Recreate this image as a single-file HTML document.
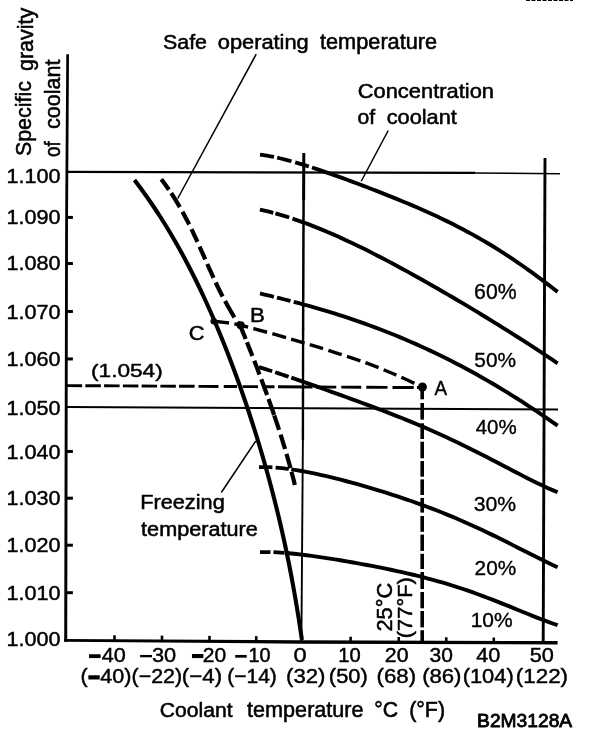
<!DOCTYPE html>
<html><head><meta charset="utf-8"><title>Coolant specific gravity chart</title>
<style>
html,body{margin:0;padding:0;background:#fff}
svg{display:block}
text{font-family:"Liberation Sans",sans-serif;font-size:20px;fill:#000;stroke:#000;stroke-linejoin:round}
.g path{stroke:#000;fill:none;stroke-linecap:butt;stroke-linejoin:round}
</style></head><body>
<svg width="608" height="732" viewBox="0 0 608 732">
<rect width="608" height="732" fill="#fff"/>
<g class="g">
<path d="M66.3 54.2 L69 54.2 L68 215 L67.2 641.7 L64.2 641.7 L65.2 215 Z" style="fill:#000;stroke:none"/>
<path d="M64.2 639.1 L300 640.2 L557.6 641.1 L557.6 644.4 L300 643.7 L64.2 641.7 Z" style="fill:#000;stroke:none"/>
<path d="M66.50 217.40 L72.90 217.40" stroke-width="3.0"/>
<path d="M66.50 263.50 L72.90 263.50" stroke-width="3.0"/>
<path d="M66.50 311.45 L72.90 311.45" stroke-width="3.0"/>
<path d="M66.50 358.95 L72.90 358.95" stroke-width="3.0"/>
<path d="M66.50 451.45 L72.90 451.45" stroke-width="3.0"/>
<path d="M66.50 498.20 L72.90 498.20" stroke-width="3.0"/>
<path d="M66.50 545.20 L72.90 545.20" stroke-width="3.0"/>
<path d="M66.50 592.70 L72.90 592.70" stroke-width="3.0"/>
<path d="M114.50 635.30 L114.50 640.70" stroke-width="2.6"/>
<path d="M162.00 635.58 L162.00 640.98" stroke-width="2.6"/>
<path d="M209.50 635.87 L209.50 641.27" stroke-width="2.6"/>
<path d="M256.25 636.15 L256.25 641.55" stroke-width="2.6"/>
<path d="M350.60 636.71 L350.60 642.11" stroke-width="2.6"/>
<path d="M398.75 637.00 L398.75 642.40" stroke-width="2.6"/>
<path d="M446.25 637.29 L446.25 642.69" stroke-width="2.6"/>
<path d="M493.75 637.57 L493.75 642.97" stroke-width="2.6"/>
<path d="M67.00 171.80 L475.00 172.90" stroke-width="2.3"/>
<path d="M474.00 172.90 L560.00 173.80" stroke-width="1.5"/>
<path d="M67.00 407.00 L558.00 409.50" stroke-width="1.9"/>
<path d="M303.80 153.00 L303.60 200.00" stroke-width="3.0"/>
<path d="M303.60 199.00 L303.10 330.00" stroke-width="2.5"/>
<path d="M303.10 329.00 L302.90 440.00" stroke-width="2.4"/>
<path d="M302.90 439.00 L301.40 641.00" stroke-width="1.9"/>
<path d="M545.00 158.00 L543.20 643.00" stroke-width="2.9"/>
<path d="M66.60 385.60 L82.10 385.69" stroke-width="2.9"/>
<path d="M85.35 385.70 L100.85 385.79" stroke-width="2.9"/>
<path d="M104.10 385.81 L119.60 385.90" stroke-width="2.9"/>
<path d="M122.85 385.91 L138.35 386.00" stroke-width="2.9"/>
<path d="M141.60 386.02 L157.10 386.11" stroke-width="2.9"/>
<path d="M160.35 386.13 L175.85 386.21" stroke-width="2.9"/>
<path d="M179.10 386.23 L194.60 386.32" stroke-width="2.9"/>
<path d="M198.50 386.34 L218.50 386.45" stroke-width="2.9"/>
<path d="M223.75 386.48 L237.00 386.56" stroke-width="2.9"/>
<path d="M242.60 386.59 L258.00 386.68" stroke-width="2.9"/>
<path d="M262.00 386.70 L274.50 386.77" stroke-width="2.9"/>
<path d="M278.00 386.79 L312.50 386.98" stroke-width="2.9"/>
<path d="M316.25 387.00 L336.25 387.12" stroke-width="2.9"/>
<path d="M341.25 387.15 L361.25 387.26" stroke-width="2.9"/>
<path d="M366.25 387.29 L387.50 387.41" stroke-width="2.9"/>
<path d="M392.50 387.43 L413.75 387.55" stroke-width="2.9"/>
<path d="M417.00 387.57 L422.00 387.60" stroke-width="2.9"/>
<path d="M422.20 387.00 L422.20 399.30" stroke-width="3.6"/>
<path d="M422.20 403.00 L422.20 419.60" stroke-width="3.6"/>
<path d="M422.20 423.30 L422.20 439.00" stroke-width="3.6"/>
<path d="M422.20 441.70 L422.20 458.30" stroke-width="3.6"/>
<path d="M422.20 461.00 L422.20 476.70" stroke-width="3.6"/>
<path d="M422.20 479.40 L422.20 495.00" stroke-width="3.6"/>
<path d="M422.20 497.90 L422.20 512.60" stroke-width="3.6"/>
<path d="M422.20 516.00 L422.20 531.80" stroke-width="3.6"/>
<path d="M422.20 534.60 L422.20 550.90" stroke-width="3.6"/>
<path d="M422.20 553.80 L422.20 569.00" stroke-width="3.6"/>
<path d="M422.20 572.00 L422.20 589.00" stroke-width="3.6"/>
<path d="M422.20 592.00 L422.20 608.30" stroke-width="3.6"/>
<path d="M422.20 611.00 L422.20 627.40" stroke-width="3.6"/>
<path d="M422.20 630.20 L422.20 642.50" stroke-width="3.6"/>
<path d="M213.75 321.25 C218.04 321.88 226.79 322.08 239.50 325.00 C252.21 327.92 275.25 334.53 290.00 338.75 C304.75 342.97 315.50 346.34 328.00 350.30 C340.50 354.26 353.83 358.47 365.00 362.50 C376.17 366.53 385.50 370.42 395.00 374.50 C404.50 378.58 417.50 384.92 422.00 387.00" stroke-width="3.4" stroke-dasharray="14 5.5" stroke-dashoffset="-1.5"/>
<path d="M134.47 180.00 L137.51 184.00 L140.49 188.00 L143.40 192.00 L146.26 196.00 L149.06 200.00 L151.81 204.00 L154.51 208.00 L157.15 212.00 L159.75 216.00 L162.30 220.00 L164.80 224.00 L167.26 228.00 L169.67 232.00 L172.04 236.00 L174.37 240.00 L176.67 244.00 L178.92 248.00 L181.13 252.00 L183.31 256.00 L185.46 260.00 L187.57 264.00 L189.65 268.00 L191.70 272.00 L193.71 276.00 L195.70 280.00 L197.66 284.00 L199.59 288.00 L201.49 292.00 L203.36 296.00 L205.21 300.00 L207.04 304.00 L208.84 308.00 L210.62 312.00 L212.37 316.00 L214.10 320.00 L215.81 324.00 L217.50 328.00 L219.17 332.00 L220.82 336.00 L222.45 340.00 L224.06 344.00 L225.65 348.00 L227.22 352.00 L228.77 356.00 L230.31 360.00 L231.83 364.00 L233.33 368.00 L234.82 372.00 L236.29 376.00 L237.74 380.00 L239.18 384.00 L240.60 388.00 L242.00 392.00 L243.39 396.00 L244.77 400.00 L246.13 404.00 L247.47 408.00 L248.81 412.00 L250.12 416.00 L251.42 420.00 L252.71 424.00 L253.99 428.00 L255.25 432.00 L256.49 436.00 L257.72 440.00 L258.94 444.00 L260.14 448.00 L261.33 452.00 L262.51 456.00 L263.67 460.00 L264.81 464.00 L265.95 468.00 L267.07 472.00 L268.17 476.00 L269.27 480.00 L270.34 484.00 L271.41 488.00 L272.46 492.00 L273.49 496.00 L274.52 500.00 L275.52 504.00 L276.52 508.00 L277.50 512.00 L278.47 516.00 L279.42 520.00 L280.36 524.00 L281.28 528.00 L282.19 532.00 L283.09 536.00 L283.98 540.00 L284.85 544.00 L285.70 548.00 L286.54 552.00 L287.37 556.00 L288.19 560.00 L288.99 564.00 L289.78 568.00 L290.56 572.00 L291.32 576.00 L292.07 580.00 L292.81 584.00 L293.53 588.00 L294.25 592.00 L294.95 596.00 L295.64 600.00 L296.31 604.00 L296.98 608.00 L297.63 612.00 L298.28 616.00 L298.91 620.00 L299.53 624.00 L300.15 628.00 L300.75 632.00 L301.35 636.00 L301.93 640.00" stroke-width="4.1"/>
<path d="M161.31 179.30 L163.93 182.77 L166.44 186.23 L168.87 189.70" stroke-width="4.2"/>
<path d="M171.23 193.20 L173.49 196.67 L175.67 200.15 L177.78 203.62 L179.82 207.10" stroke-width="4.2"/>
<path d="M182.48 211.80 L184.22 214.98 L185.91 218.15 L187.56 221.32 L189.16 224.50" stroke-width="4.2"/>
<path d="M191.48 229.20 L193.01 232.38 L194.51 235.55 L195.98 238.72 L197.44 241.90" stroke-width="4.2"/>
<path d="M199.56 246.60 L200.98 249.78 L202.39 252.95 L203.80 256.12 L205.20 259.30" stroke-width="4.2"/>
<path d="M207.28 264.00 L208.82 267.48 L210.38 270.95 L211.96 274.42 L213.55 277.90" stroke-width="4.2"/>
<path d="M215.70 282.50 L217.37 286.00 L219.08 289.50 L220.83 293.00 L222.62 296.50" stroke-width="4.2"/>
<path d="M225.06 301.10 L226.83 304.34 L228.65 307.58 L230.52 310.82 L232.46 314.06 L234.45 317.30" stroke-width="4.2"/>
<path d="M237.46 322.00 L240.09 325.20" stroke-width="4.2"/>
<path d="M240.09 325.20 L241.49 328.65 L242.88 332.10 L244.27 335.55 L245.66 339.00" stroke-width="4.2"/>
<path d="M246.98 342.30 L248.34 345.73 L249.70 349.15 L251.05 352.57 L252.39 356.00" stroke-width="4.2"/>
<path d="M254.26 360.80 L255.58 364.20 L256.88 367.60 L258.18 371.00 L259.47 374.40" stroke-width="4.2"/>
<path d="M261.28 379.20 L262.46 382.36 L263.63 385.52 L264.79 388.68 L265.95 391.84 L267.09 395.00" stroke-width="4.2"/>
<path d="M268.53 399.00 L269.67 402.20 L270.79 405.40 L271.91 408.60 L273.02 411.80 L274.11 415.00" stroke-width="4.2"/>
<path d="M274.28 415.50 L275.49 419.07 L276.69 422.65 L277.87 426.23 L279.03 429.80" stroke-width="4.2"/>
<path d="M280.58 434.60 L281.71 438.20 L282.83 441.80 L283.94 445.40 L285.02 449.00" stroke-width="4.2"/>
<path d="M286.45 453.80 L287.48 457.38 L288.50 460.95 L289.51 464.53 L290.49 468.10" stroke-width="4.2"/>
<path d="M291.46 471.70 L292.33 475.00 L293.19 478.30 L294.03 481.60 L294.85 484.90" stroke-width="4.2"/>
<path d="M260.00 154.55 L263.50 155.05 L267.00 155.63 L270.50 156.27 L274.00 156.98" stroke-width="3.8"/>
<path d="M277.20 157.67 L280.77 158.50 L284.35 159.38 L287.93 160.30 L291.50 161.27" stroke-width="3.8"/>
<path d="M295.20 162.31 L298.60 163.31 L302.00 164.33 L305.40 165.38 L308.80 166.46" stroke-width="3.8"/>
<path d="M312.00 167.49 L317.01 169.15 L322.02 170.84 L327.04 172.57 L332.05 174.33 L337.06 176.12 L342.07 177.93 L347.09 179.77 L352.10 181.62 L357.11 183.49 L362.12 185.38 L367.13 187.29 L372.15 189.21 L377.16 191.16 L382.17 193.12 L387.18 195.10 L392.20 197.11 L397.21 199.14 L402.22 201.20 L407.23 203.29 L412.24 205.40 L417.26 207.56 L422.27 209.75 L427.28 211.98 L432.29 214.25 L437.31 216.58 L442.32 218.95 L447.33 221.37 L452.34 223.86 L457.36 226.40 L462.37 229.00 L467.38 231.66 L472.39 234.40 L477.40 237.20 L482.42 240.07 L487.43 243.02 L492.44 246.04 L497.45 249.14 L502.47 252.31 L507.48 255.56 L512.49 258.88 L517.50 262.28 L522.51 265.75 L527.53 269.29 L532.54 272.90 L537.55 276.58 L542.56 280.32 L547.58 284.12 L552.59 287.97 L557.60 291.87" stroke-width="3.9"/>
<path d="M259.90 209.57 L263.25 210.32 L266.60 211.11 L269.95 211.94 L273.30 212.81" stroke-width="3.8"/>
<path d="M275.40 213.38 L278.85 214.36 L282.30 215.37 L285.75 216.42 L289.20 217.51" stroke-width="3.8"/>
<path d="M292.50 218.59 L297.50 220.30 L302.50 222.07 L307.51 223.92 L312.51 225.84 L317.51 227.82 L322.51 229.86 L327.51 231.97 L332.52 234.12 L337.52 236.34 L342.52 238.60 L347.52 240.91 L352.52 243.27 L357.52 245.67 L362.53 248.12 L367.53 250.60 L372.53 253.12 L377.53 255.68 L382.53 258.26 L387.54 260.89 L392.54 263.54 L397.54 266.22 L402.54 268.93 L407.54 271.66 L412.55 274.42 L417.55 277.21 L422.55 280.01 L427.55 282.84 L432.55 285.69 L437.55 288.56 L442.56 291.45 L447.56 294.35 L452.56 297.28 L457.56 300.22 L462.56 303.19 L467.57 306.17 L472.57 309.17 L477.57 312.18 L482.57 315.22 L487.57 318.27 L492.58 321.34 L497.58 324.43 L502.58 327.54 L507.58 330.67 L512.58 333.82 L517.58 337.00 L522.59 340.19 L527.59 343.41 L532.59 346.66 L537.59 349.93 L542.59 353.23 L547.60 356.55 L552.60 359.91 L557.60 363.30" stroke-width="3.9"/>
<path d="M260.00 293.46 L263.48 294.28 L266.95 295.11 L270.42 295.94 L273.90 296.79" stroke-width="3.8"/>
<path d="M277.00 297.55 L280.38 298.39 L283.75 299.24 L287.12 300.10 L290.50 300.97" stroke-width="3.8"/>
<path d="M293.75 301.82 L298.82 303.17 L303.90 304.55 L308.97 305.95 L314.05 307.39 L319.12 308.86 L324.19 310.36 L329.27 311.89 L334.34 313.46 L339.42 315.06 L344.49 316.70 L349.56 318.37 L354.64 320.09 L359.71 321.84 L364.79 323.63 L369.86 325.47 L374.93 327.34 L380.01 329.26 L385.08 331.22 L390.16 333.22 L395.23 335.27 L400.30 337.36 L405.38 339.49 L410.45 341.67 L415.53 343.90 L420.60 346.17 L425.68 348.49 L430.75 350.86 L435.82 353.28 L440.90 355.74 L445.97 358.25 L451.05 360.81 L456.12 363.41 L461.19 366.07 L466.27 368.77 L471.34 371.53 L476.42 374.33 L481.49 377.18 L486.56 380.08 L491.64 383.03 L496.71 386.02 L501.79 389.07 L506.86 392.16 L511.93 395.30 L517.01 398.49 L522.08 401.73 L527.16 405.02 L532.23 408.35 L537.30 411.73 L542.38 415.15 L547.45 418.63 L552.53 422.14 L557.60 425.71" stroke-width="3.9"/>
<path d="M258.90 367.11 L262.22 368.13 L265.55 369.16 L268.88 370.22 L272.20 371.29" stroke-width="3.8"/>
<path d="M275.20 372.27 L278.55 373.38 L281.90 374.50 L285.25 375.63 L288.60 376.77" stroke-width="3.8"/>
<path d="M291.30 377.69 L296.32 379.42 L301.35 381.17 L306.37 382.93 L311.40 384.69 L316.42 386.46 L321.45 388.24 L326.47 390.03 L331.50 391.82 L336.52 393.61 L341.55 395.42 L346.57 397.23 L351.59 399.05 L356.62 400.87 L361.64 402.71 L366.67 404.57 L371.69 406.43 L376.72 408.32 L381.74 410.22 L386.77 412.14 L391.79 414.09 L396.82 416.06 L401.84 418.06 L406.86 420.09 L411.89 422.15 L416.91 424.24 L421.94 426.37 L426.96 428.53 L431.99 430.73 L437.01 432.97 L442.04 435.24 L447.06 437.55 L452.08 439.90 L457.11 442.29 L462.13 444.72 L467.16 447.18 L472.18 449.67 L477.21 452.20 L482.23 454.75 L487.26 457.33 L492.28 459.93 L497.31 462.54 L502.33 465.16 L507.35 467.79 L512.38 470.41 L517.40 473.02 L522.43 475.61 L527.45 478.17 L532.48 480.69 L537.50 483.16 L542.53 485.57 L547.55 487.90 L552.58 490.14 L557.60 492.27" stroke-width="3.9"/>
<path d="M259.00 467.11 L262.35 467.07 L265.70 467.10 L269.05 467.20 L272.40 467.37" stroke-width="3.8"/>
<path d="M275.60 467.59 L278.90 467.86 L282.20 468.19 L285.50 468.57 L288.80 468.99" stroke-width="3.8"/>
<path d="M291.30 469.34 L296.32 470.11 L301.35 470.96 L306.37 471.89 L311.40 472.88 L316.42 473.93 L321.45 475.04 L326.47 476.20 L331.50 477.41 L336.52 478.65 L341.55 479.94 L346.57 481.26 L351.59 482.61 L356.62 483.99 L361.64 485.41 L366.67 486.85 L371.69 488.33 L376.72 489.83 L381.74 491.37 L386.77 492.93 L391.79 494.53 L396.82 496.16 L401.84 497.83 L406.86 499.53 L411.89 501.27 L416.91 503.04 L421.94 504.86 L426.96 506.71 L431.99 508.61 L437.01 510.55 L442.04 512.54 L447.06 514.57 L452.08 516.65 L457.11 518.77 L462.13 520.94 L467.16 523.16 L472.18 525.42 L477.21 527.73 L482.23 530.07 L487.26 532.46 L492.28 534.88 L497.31 537.34 L502.33 539.83 L507.35 542.34 L512.38 544.87 L517.40 547.42 L522.43 549.97 L527.45 552.52 L532.48 555.06 L537.50 557.58 L542.53 560.07 L547.55 562.52 L552.58 564.92 L557.60 567.25" stroke-width="3.9"/>
<path d="M260.00 552.11 L263.50 552.05 L267.00 552.05 L270.50 552.11" stroke-width="3.8"/>
<path d="M273.50 552.21 L277.17 552.38 L280.83 552.59 L284.50 552.85" stroke-width="3.8"/>
<path d="M286.50 553.02 L291.52 553.47 L296.54 553.99 L301.56 554.57 L306.58 555.19 L311.60 555.86 L316.62 556.57 L321.64 557.31 L326.66 558.07 L331.68 558.87 L336.70 559.68 L341.72 560.52 L346.74 561.37 L351.76 562.25 L356.79 563.14 L361.81 564.05 L366.83 564.98 L371.85 565.93 L376.87 566.90 L381.89 567.90 L386.91 568.92 L391.93 569.97 L396.95 571.05 L401.97 572.16 L406.99 573.30 L412.01 574.48 L417.03 575.70 L422.05 576.96 L427.07 578.27 L432.09 579.62 L437.11 581.01 L442.13 582.46 L447.15 583.96 L452.17 585.50 L457.19 587.10 L462.21 588.75 L467.23 590.45 L472.25 592.20 L477.27 594.00 L482.29 595.84 L487.31 597.73 L492.34 599.66 L497.36 601.62 L502.38 603.62 L507.40 605.64 L512.42 607.67 L517.44 609.72 L522.46 611.77 L527.48 613.81 L532.50 615.83 L537.52 617.82 L542.54 619.77 L547.56 621.65 L552.58 623.47 L557.60 625.19" stroke-width="3.9"/>
<path d="M256.20 54.20 L177.70 198.50" stroke-width="1.5"/>
<path d="M388.20 130.50 L361.25 181.25" stroke-width="1.5"/>
<path d="M255.80 441.00 L221.30 492.50" stroke-width="1.5"/>
<circle cx="422.4" cy="387" r="4.5" style="fill:#000;stroke:none"/>
<circle cx="240.7" cy="325.3" r="4" style="fill:#000;stroke:none"/>
<circle cx="213.8" cy="321.3" r="3.3" style="fill:#000;stroke:none"/>
<path d="M526 0.3 L573 0.3" stroke-width="1.4" stroke-dasharray="4 1.5"/>
</g>
<g>
<text transform="matrix(1.0805 0 0 1.0169 6.56 182.62)" stroke-width="0.429">1.100</text>
<text transform="matrix(1.0805 0 0 1.0169 6.56 224.17)" stroke-width="0.429">1.090</text>
<text transform="matrix(1.0805 0 0 1.0169 6.56 269.82)" stroke-width="0.429">1.080</text>
<text transform="matrix(1.0805 0 0 1.0169 6.56 318.52)" stroke-width="0.429">1.070</text>
<text transform="matrix(1.0805 0 0 1.0169 6.56 365.77)" stroke-width="0.429">1.060</text>
<text transform="matrix(1.0805 0 0 1.0169 6.56 414.52)" stroke-width="0.429">1.050</text>
<text transform="matrix(1.0805 0 0 1.0169 6.56 458.52)" stroke-width="0.429">1.040</text>
<text transform="matrix(1.0805 0 0 1.0169 6.56 505.27)" stroke-width="0.429">1.030</text>
<text transform="matrix(1.0805 0 0 1.0169 6.56 552.42)" stroke-width="0.429">1.020</text>
<text transform="matrix(1.0805 0 0 1.0169 6.56 599.92)" stroke-width="0.429">1.010</text>
<text transform="matrix(1.0805 0 0 1.0169 6.56 646.02)" stroke-width="0.429">1.000</text>
<text transform="matrix(1.0833 0 0 1.0099 101.64 661.82)" stroke-width="0.430">40</text>
<text transform="matrix(1.0893 0 0 1.0099 151.91 661.82)" stroke-width="0.429">30</text>
<text transform="matrix(1.0510 0 0 1.0099 202.83 661.82)" stroke-width="0.437">20</text>
<text transform="matrix(0.9920 0 0 1.0099 248.39 661.82)" stroke-width="0.450">10</text>
<text transform="matrix(1.1832 0 0 1.0099 293.43 661.82)" stroke-width="0.410">0</text>
<text transform="matrix(1.0070 0 0 1.0099 338.37 661.82)" stroke-width="0.446">10</text>
<text transform="matrix(1.0657 0 0 1.0099 384.81 661.82)" stroke-width="0.434">20</text>
<text transform="matrix(1.0505 0 0 1.0099 429.54 661.82)" stroke-width="0.437">30</text>
<text transform="matrix(1.0833 0 0 1.0099 476.14 661.82)" stroke-width="0.430">40</text>
<text transform="matrix(1.0893 0 0 1.0099 529.71 661.82)" stroke-width="0.429">50</text>
<text transform="matrix(1.1951 0 0 2.6729 87.81 673.53)" stroke-width="0.005">−</text>
<text transform="matrix(1.2208 0 0 1.6371 138.68 667.32)" stroke-width="0.007">−</text>
<text transform="matrix(1.1744 0 0 2.8514 190.63 674.70)" stroke-width="0.005">−</text>
<text transform="matrix(1.1847 0 0 1.9229 233.92 669.33)" stroke-width="0.006">−</text>
<text transform="matrix(1.1590 0 0 2.4229 87.35 694.23)" stroke-width="0.006">−</text>
<text transform="matrix(1.0768 0 0 1.0182 80.59 683.14)" stroke-width="0.430">(−40)</text>
<text transform="matrix(1.0701 0 0 1.0182 131.60 683.14)" stroke-width="0.431">(−22)</text>
<text transform="matrix(1.1139 0 0 1.0182 181.84 683.14)" stroke-width="0.422">(−4)</text>
<text transform="matrix(1.0500 0 0 1.0182 227.22 683.14)" stroke-width="0.435">(−14)</text>
<text transform="matrix(1.1069 0 0 1.0182 286.05 683.14)" stroke-width="0.424">(32)</text>
<text transform="matrix(1.0918 0 0 1.0182 328.87 683.14)" stroke-width="0.427">(50)</text>
<text transform="matrix(1.1130 0 0 1.0182 376.54 683.14)" stroke-width="0.422">(68)</text>
<text transform="matrix(1.1069 0 0 1.0182 422.15 683.14)" stroke-width="0.424">(86)</text>
<text transform="matrix(1.0937 0 0 1.0182 462.67 683.14)" stroke-width="0.426">(104)</text>
<text transform="matrix(1.1186 0 0 1.0182 515.84 683.14)" stroke-width="0.421">(122)</text>
<text transform="matrix(1.0569 0 0 1.0313 159.86 717.17)" stroke-width="0.527">Coolant</text>
<text transform="matrix(1.0803 0 0 1.0674 247.10 716.90)" stroke-width="0.512">temperature</text>
<text transform="matrix(1.0618 0 0 1.0676 374.25 717.17)" stroke-width="0.517">°C</text>
<text transform="matrix(1.0727 0 0 1.0727 409.13 716.97)" stroke-width="0.513">(°F)</text>
<text transform="matrix(0.9616 0 0 0.9056 477.08 726.50)" stroke-width="0.857">B2M3128A</text>
<text transform="matrix(1.0677 0 0 1.0245 163.06 48.58)" stroke-width="0.526">Safe</text>
<text transform="matrix(1.0918 0 0 1.0246 217.75 48.78)" stroke-width="0.520">operating</text>
<text transform="matrix(1.0869 0 0 1.0733 319.99 48.97)" stroke-width="0.509">temperature</text>
<text transform="matrix(1.0954 0 0 1.0211 357.72 97.78)" stroke-width="0.520">Concentration</text>
<text transform="matrix(1.0572 0 0 1.0041 357.62 123.98)" stroke-width="0.534">of</text>
<text transform="matrix(1.0893 0 0 1.0041 386.64 123.98)" stroke-width="0.525">coolant</text>
<text transform="matrix(1.0876 0 0 1.0032 140.18 508.87)" stroke-width="0.526">Freezing</text>
<text transform="matrix(1.0812 0 0 1.0442 141.10 536.19)" stroke-width="0.518">temperature</text>
<text transform="matrix(1.1314 0 0 0.9626 91.04 377.46)" stroke-width="0.478">(1.054)</text>
<text transform="matrix(1.1121 0 0 1.0145 250.12 321.70)" stroke-width="0.470">B</text>
<text transform="matrix(1.0952 0 0 1.0211 188.80 340.40)" stroke-width="0.473">C</text>
<text transform="matrix(0.9394 0 0 1.0217 434.61 395.00)" stroke-width="0.510">A</text>
<text transform="matrix(1.0632 0 0 1.0718 474.08 299.15)" stroke-width="0.328">60%</text>
<text transform="matrix(1.0447 0 0 1.0366 474.30 366.65)" stroke-width="0.336">50%</text>
<text transform="matrix(1.0237 0 0 0.9732 475.63 433.57)" stroke-width="0.351">40%</text>
<text transform="matrix(1.0603 0 0 1.0437 473.79 510.95)" stroke-width="0.333">30%</text>
<text transform="matrix(1.0397 0 0 1.0155 474.60 575.36)" stroke-width="0.341">20%</text>
<text transform="matrix(1.0481 0 0 1.0085 470.67 627.26)" stroke-width="0.340">10%</text>
<text transform="matrix(0 -1.0694 1.0674 0 31.40 156.04)" stroke-width="0.515">Specific</text>
<text transform="matrix(0 -1.0734 1.1209 0 33.07 71.04)" stroke-width="0.501">gravity</text>
<text transform="matrix(0 -0.9409 1.0789 0 59.66 157.03)" stroke-width="0.545">of</text>
<text transform="matrix(0 -1.0782 1.0789 0 59.66 128.95)" stroke-width="0.510">coolant</text>
<text transform="matrix(0 -1.0935 1.1479 0 391.87 631.59)" stroke-width="0.446">25°C</text>
<text transform="matrix(0 -1.0957 1.0535 0 411.88 638.21)" stroke-width="0.465">(77°F)</text>
</g>
</svg>
</body></html>
